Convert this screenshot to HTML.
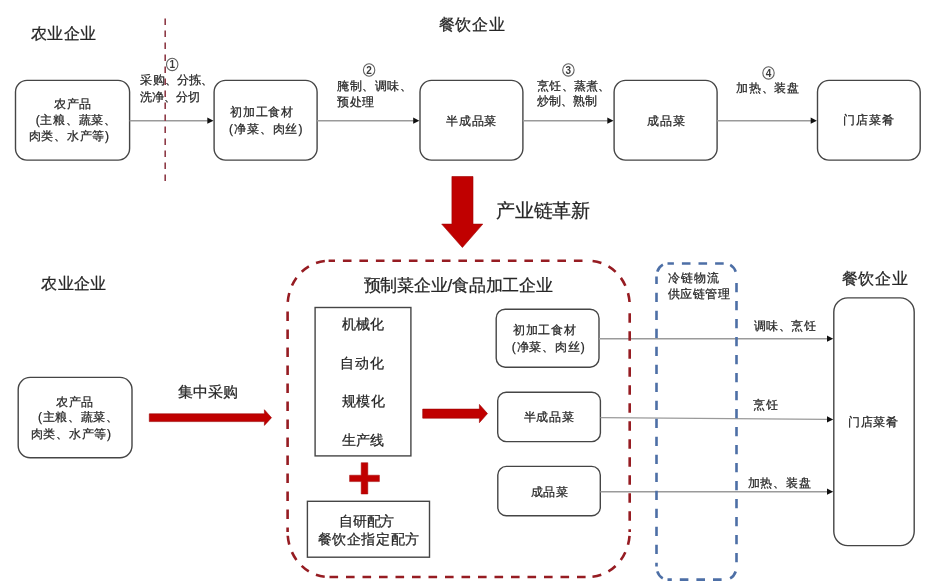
<!DOCTYPE html>
<html><head><meta charset="utf-8">
<style>
html,body{margin:0;padding:0;background:#fff;}
body{width:938px;height:583px;position:relative;overflow:hidden;filter:blur(0.35px);font-family:"Liberation Sans",sans-serif;color:#262626;}
svg{position:absolute;left:0;top:0;will-change:transform;}
.t{position:absolute;white-space:nowrap;line-height:1;-webkit-text-stroke:0.25px #262626;}
#tx{position:absolute;left:0;top:0;width:938px;height:583px;will-change:transform;}
</style></head><body>
<svg width="938" height="583" viewBox="0 0 938 583">
<g fill="none" stroke="#454545" stroke-width="1.4">
<rect x="15.5" y="80.4" width="114.1" height="79.7" rx="11.5" />
<rect x="214.1" y="80.4" width="103.0" height="79.7" rx="11.5" />
<rect x="420" y="80.4" width="102.9" height="79.7" rx="11.5" />
<rect x="614.1" y="80.4" width="103.0" height="79.7" rx="11.5" />
<rect x="817.5" y="80.4" width="102.7" height="79.7" rx="11.5" />
<rect x="18.2" y="377.4" width="113.8" height="80.3" rx="12" />
<rect x="315.1" y="307.5" width="95.8" height="148.4" rx="0" />
<rect x="307.4" y="501.3" width="122.1" height="55.9" rx="0" />
<rect x="496.2" y="309.2" width="102.8" height="58.0" rx="9" />
<rect x="497.7" y="392.2" width="102.7" height="49.4" rx="8.5" />
<rect x="497.8" y="466.4" width="102.5" height="49.3" rx="8.5" />
<rect x="833.8" y="297.9" width="80.4" height="247.7" rx="14" />
</g>
<line x1="129.6" y1="120.7" x2="207.8" y2="120.7" stroke="#9a9a9a" stroke-width="1.4"/><path d="M207.3,117.60000000000001 L213.5,120.7 L207.3,123.8 Z" fill="#111"/>
<line x1="317.1" y1="120.7" x2="413.7" y2="120.7" stroke="#9a9a9a" stroke-width="1.4"/><path d="M413.2,117.60000000000001 L419.4,120.7 L413.2,123.8 Z" fill="#111"/>
<line x1="522.9" y1="120.7" x2="607.8" y2="120.7" stroke="#9a9a9a" stroke-width="1.4"/><path d="M607.3,117.60000000000001 L613.5,120.7 L607.3,123.8 Z" fill="#111"/>
<line x1="717.1" y1="120.7" x2="811.1999999999999" y2="120.7" stroke="#9a9a9a" stroke-width="1.4"/><path d="M810.6999999999999,117.60000000000001 L816.9,120.7 L810.6999999999999,123.8 Z" fill="#111"/>
<line x1="599" y1="338.7" x2="827.5" y2="338.7" stroke="#9a9a9a" stroke-width="1.4"/><path d="M827.0,335.59999999999997 L833.2,338.7 L827.0,341.8 Z" fill="#111"/>
<line x1="600.4" y1="417.6" x2="827.5" y2="419.4" stroke="#9a9a9a" stroke-width="1.4"/><path d="M827.0,416.29999999999995 L833.2,419.4 L827.0,422.5 Z" fill="#111"/>
<line x1="600.3" y1="491.7" x2="827.5" y2="491.7" stroke="#9a9a9a" stroke-width="1.4"/><path d="M827.0,488.59999999999997 L833.2,491.7 L827.0,494.8 Z" fill="#111"/>
<line x1="165.2" y1="18.6" x2="165.2" y2="182" stroke="#8e3a47" stroke-width="1.6" stroke-dasharray="6.3 5.7"/>
<path d="M328.6,260.8 H588.7" fill="none" stroke="#961c22" stroke-width="2.6" stroke-dasharray="8.6 7.9" stroke-dashoffset="2.2"/>
<path d="M328.6,577 H588.7" fill="none" stroke="#961c22" stroke-width="2.6" stroke-dasharray="8.6 7.9" stroke-dashoffset="15.6"/>
<path d="M287.6,305.8 V532" fill="none" stroke="#961c22" stroke-width="2.6" stroke-dasharray="9.4 8.6" stroke-dashoffset="12.3"/>
<path d="M629.7,305.8 V532" fill="none" stroke="#961c22" stroke-width="2.6" stroke-dasharray="9.4 8.6" stroke-dashoffset="10.5"/>
<path d="M287.6,305.8 A41,45 0 0 1 328.6,260.8" fill="none" stroke="#961c22" stroke-width="2.6" stroke-dasharray="9.0 7.895" stroke-dashoffset="12.948"/>
<path d="M588.7,260.8 A41,45 0 0 1 629.7,305.8" fill="none" stroke="#961c22" stroke-width="2.6" stroke-dasharray="9.0 7.895" stroke-dashoffset="12.948"/>
<path d="M629.7,532 A41,45 0 0 1 588.7,577" fill="none" stroke="#961c22" stroke-width="2.6" stroke-dasharray="9.0 7.895" stroke-dashoffset="12.948"/>
<path d="M328.6,577 A41,45 0 0 1 287.6,532" fill="none" stroke="#961c22" stroke-width="2.6" stroke-dasharray="9.0 7.895" stroke-dashoffset="12.948"/>
<path d="M667.5,263.5 H725.5" fill="none" stroke="#4d6fa6" stroke-width="2.6" stroke-dasharray="8.6 8.000000000000002" stroke-dashoffset="2.2"/>
<path d="M667.5,579.6 H725.5" fill="none" stroke="#4d6fa6" stroke-width="2.6" stroke-dasharray="8.6 8.000000000000002" stroke-dashoffset="4.3"/>
<path d="M656.5,276.5 V566.6" fill="none" stroke="#4d6fa6" stroke-width="2.6" stroke-dasharray="9.4 8.6" stroke-dashoffset="1.8"/>
<path d="M736.5,276.5 V566.6" fill="none" stroke="#4d6fa6" stroke-width="2.6" stroke-dasharray="9.4 8.6" stroke-dashoffset="11.6"/>
<path d="M656.5,276.5 A11,13 0 0 1 667.5,263.5" fill="none" stroke="#4d6fa6" stroke-width="2.6" stroke-dasharray="9.0 9.882" stroke-dashoffset="13.941"/>
<path d="M725.5,263.5 A11,13 0 0 1 736.5,276.5" fill="none" stroke="#4d6fa6" stroke-width="2.6" stroke-dasharray="9.0 9.882" stroke-dashoffset="13.941"/>
<path d="M736.5,566.6 A11,13 0 0 1 725.5,579.6" fill="none" stroke="#4d6fa6" stroke-width="2.6" stroke-dasharray="9.0 9.882" stroke-dashoffset="13.941"/>
<path d="M667.5,579.6 A11,13 0 0 1 656.5,566.6" fill="none" stroke="#4d6fa6" stroke-width="2.6" stroke-dasharray="9.0 9.882" stroke-dashoffset="13.941"/>
<path d="M451.9,176.5 H473 V224.1 H482.8 L462.4,247.5 L441.7,224.1 H451.9 Z" fill="#c00000" stroke="#a00000" stroke-width="0.6"/>
<path d="M149.3,413.8 H264.4 V409.7 L271.5,417.7 L264.4,425.4 V421.6 H149.3 Z" fill="#c00000" stroke="#9a0000" stroke-width="0.6"/>
<path d="M422.7,409.1 H479.4 V404.4 L487.5,413.6 L479.4,422.7 V418.2 H422.7 Z" fill="#c00000" stroke="#9a0000" stroke-width="0.6"/>
<path d="M361.2,462.7 H367.8 V475.2 H379.4 V481.6 H367.8 V494 H361.2 V481.6 H349.6 V475.2 H361.2 Z" fill="#c00000" stroke="#a00000" stroke-width="0.5"/>
<ellipse cx="172.2" cy="64.4" rx="5.7" ry="6.2" fill="#fff" stroke="#606060" stroke-width="1.1"/>
<text x="172.2" y="68.0" text-anchor="middle" font-family="Liberation Sans, sans-serif" font-size="10" font-weight="bold" fill="#3a3a3a">1</text>
<ellipse cx="369.1" cy="70.0" rx="5.7" ry="6.2" fill="#fff" stroke="#606060" stroke-width="1.1"/>
<text x="369.1" y="73.6" text-anchor="middle" font-family="Liberation Sans, sans-serif" font-size="10" font-weight="bold" fill="#3a3a3a">2</text>
<ellipse cx="568.4" cy="69.9" rx="5.7" ry="6.2" fill="#fff" stroke="#606060" stroke-width="1.1"/>
<text x="568.4" y="73.5" text-anchor="middle" font-family="Liberation Sans, sans-serif" font-size="10" font-weight="bold" fill="#3a3a3a">3</text>
<ellipse cx="768.5" cy="72.9" rx="5.7" ry="6.2" fill="#fff" stroke="#606060" stroke-width="1.1"/>
<text x="768.5" y="76.5" text-anchor="middle" font-family="Liberation Sans, sans-serif" font-size="10" font-weight="bold" fill="#3a3a3a">4</text>
</svg>
<div id="tx">
<div class="t" style="left:30.5px;top:25.9px;font-size:16px;letter-spacing:0.57px">农业企业</div>
<div class="t" style="left:438.7px;top:16.6px;font-size:16px;letter-spacing:0.73px">餐饮企业</div>
<div class="t" style="left:140.4px;top:74.0px;font-size:12px;letter-spacing:0.18px">采购、分拣、</div>
<div class="t" style="left:139.5px;top:90.8px;font-size:12px;letter-spacing:0.18px">洗净、分切</div>
<div class="t" style="left:337.4px;top:79.8px;font-size:12px;letter-spacing:0.46px">腌制、调味、</div>
<div class="t" style="left:337.2px;top:95.8px;font-size:12px;letter-spacing:0.46px">预处理</div>
<div class="t" style="left:537.1px;top:79.8px;font-size:12px;letter-spacing:0.24px">烹饪、蒸煮、</div>
<div class="t" style="left:536.5px;top:95.0px;font-size:12px;letter-spacing:0.24px">炒制、熟制</div>
<div class="t" style="left:736.0px;top:82.3px;font-size:12px;letter-spacing:0.83px">加热、装盘</div>
<div class="t" style="left:54.4px;top:97.5px;font-size:12px;letter-spacing:0.4px">农产品</div>
<div class="t" style="left:35.7px;top:113.8px;font-size:12px;letter-spacing:0.75px">(主粮、蔬菜、</div>
<div class="t" style="left:28.7px;top:130.3px;font-size:12px;letter-spacing:0.73px">肉类、水产等)</div>
<div class="t" style="left:230.2px;top:106.4px;font-size:12px;letter-spacing:0.7px">初加工食材</div>
<div class="t" style="left:228.9px;top:122.9px;font-size:12px;letter-spacing:0.92px">(净菜、肉丝)</div>
<div class="t" style="left:446.0px;top:115.1px;font-size:12px;letter-spacing:0.77px">半成品菜</div>
<div class="t" style="left:647.1px;top:114.5px;font-size:12px;letter-spacing:1.0px">成品菜</div>
<div class="t" style="left:843.1px;top:114.3px;font-size:12px;letter-spacing:0.97px">门店菜肴</div>
<div class="t" style="left:496.0px;top:201.2px;font-size:19px;letter-spacing:-0.17px">产业链革新</div>
<div class="t" style="left:41.2px;top:275.5px;font-size:16px;letter-spacing:0.4px">农业企业</div>
<div class="t" style="left:363.6px;top:276.9px;font-size:17px;letter-spacing:-0.21px">预制菜企业/食品加工企业</div>
<div class="t" style="left:668.1px;top:272.2px;font-size:12px;letter-spacing:0.87px">冷链物流</div>
<div class="t" style="left:667.7px;top:288.4px;font-size:12px;letter-spacing:0.57px">供应链管理</div>
<div class="t" style="left:841.5px;top:270.7px;font-size:16px;letter-spacing:0.7px">餐饮企业</div>
<div class="t" style="left:56.4px;top:396.4px;font-size:12px;letter-spacing:0.4px">农产品</div>
<div class="t" style="left:37.9px;top:411.4px;font-size:12px;letter-spacing:0.67px">(主粮、蔬菜、</div>
<div class="t" style="left:30.7px;top:427.9px;font-size:12px;letter-spacing:0.73px">肉类、水产等)</div>
<div class="t" style="left:178.2px;top:383.8px;font-size:15px;letter-spacing:-0.17px">集中采购</div>
<div class="t" style="left:342.0px;top:317.1px;font-size:14px;letter-spacing:0.1px">机械化</div>
<div class="t" style="left:340.3px;top:355.5px;font-size:14px;letter-spacing:0.8px">自动化</div>
<div class="t" style="left:341.5px;top:393.5px;font-size:14px;letter-spacing:0.6px">规模化</div>
<div class="t" style="left:342.0px;top:432.7px;font-size:14px;letter-spacing:0.1px">生产线</div>
<div class="t" style="left:338.8px;top:513.9px;font-size:14px;letter-spacing:-0.1px">自研配方</div>
<div class="t" style="left:317.5px;top:532.0px;font-size:14px;letter-spacing:0.62px">餐饮企指定配方</div>
<div class="t" style="left:513.0px;top:324.4px;font-size:12px;letter-spacing:0.72px">初加工食材</div>
<div class="t" style="left:511.7px;top:340.9px;font-size:12px;letter-spacing:0.83px">(净菜、肉丝)</div>
<div class="t" style="left:523.5px;top:410.7px;font-size:12px;letter-spacing:0.67px">半成品菜</div>
<div class="t" style="left:530.6px;top:486.1px;font-size:12px;letter-spacing:0.85px">成品菜</div>
<div class="t" style="left:753.7px;top:320.0px;font-size:12px;letter-spacing:0.55px">调味、烹饪</div>
<div class="t" style="left:753.1px;top:399.1px;font-size:12px;letter-spacing:0.6px">烹饪</div>
<div class="t" style="left:747.6px;top:476.7px;font-size:12px;letter-spacing:0.8px">加热、装盘</div>
<div class="t" style="left:848.0px;top:416.1px;font-size:12px;letter-spacing:0.63px">门店菜肴</div>
</div>
</body></html>
